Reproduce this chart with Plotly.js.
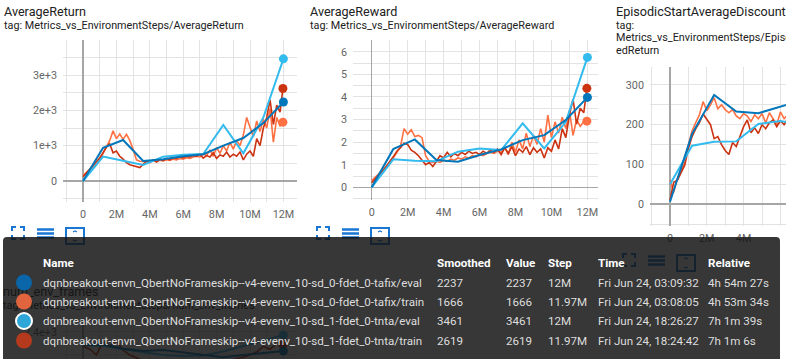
<!DOCTYPE html>
<html><head><meta charset="utf-8">
<script src="https://cdn.plot.ly/plotly-3.0.1.min.js"></script>
<style>html,body{margin:0;padding:0;background:#fff;overflow:hidden}#chart{width:786px;height:359px}</style>
</head><body><div id="chart"></div><script>
// ---------- data ----------
const evalStepsM = [0,1.2,2.4,3.6,4.8,6,7.2,8.4,9.6,10.8,12];
const trainStepsM = [0,0.2,0.4,0.6,0.8,1,1.2,1.4,1.6,1.8,2,2.2,2.4,2.6,2.8,3,3.2,3.4,3.6,3.8,4,4.2,4.4,4.6,4.8,5,5.2,5.4,5.6,5.8,6,6.2,6.4,6.6,6.8,7,7.2,7.4,7.6,7.8,8,8.2,8.4,8.6,8.8,9,9.2,9.4,9.6,9.8,10,10.2,10.4,10.6,10.8,11,11.2,11.4,11.6,11.8,11.97];

// AverageReturn
const retBlue = [0,943,1161,567,615,700,760,1000,1217,1640,2237];
const retCyan = [0,690,575,455,690,740,765,1586,784,1800,3461];
const retOrange = [150,250,330,400,480,600,780,950,1150,1420,1200,1330,1180,1320,1150,900,600,560,550,560,540,580,550,590,570,600,580,620,600,640,620,660,640,680,700,680,760,720,880,700,950,780,1000,850,1100,900,1150,1000,1300,1800,1500,1250,1700,1400,1750,1500,2050,1100,1800,1550,1666];
const retRed = [120,220,320,420,520,650,800,960,1050,800,850,700,620,520,460,430,400,380,470,560,520,600,540,620,580,640,600,660,640,690,660,700,680,720,700,760,650,720,680,800,640,740,700,820,680,760,700,820,600,760,850,700,1200,1000,1500,1800,2300,1600,2150,1950,2619];

// AverageReward
const rewBlue = [0,1.69,2.12,1.21,1.13,1.43,1.68,2.09,2.31,2.98,3.98];
const rewCyan = [0,1.24,1.18,1.15,1.58,1.72,1.65,2.83,1.72,2.90,5.75];
const rewOrange = [0.30,0.45,0.60,0.75,0.90,1.05,1.30,1.55,1.80,2.60,2.35,2.55,2.25,2.30,2.20,1.40,1.15,1.10,1.15,1.10,1.20,1.15,1.25,1.20,1.30,1.25,1.35,1.30,1.40,1.35,1.45,1.40,1.50,1.55,1.50,1.60,1.55,1.80,1.45,2.00,1.55,2.10,1.70,2.40,1.80,2.30,1.90,2.60,2.00,3.20,2.20,2.90,2.40,3.10,2.60,3.40,2.30,3.00,2.70,2.90,2.93];
const rewRed = [0.20,0.40,0.55,0.70,0.90,1.10,1.35,1.60,1.75,1.95,1.90,1.65,1.55,1.40,1.20,1.00,1.10,0.92,1.15,1.40,1.30,1.55,1.35,1.50,1.40,1.55,1.45,1.60,1.50,1.55,1.45,1.60,1.50,1.65,1.55,1.70,1.45,1.75,1.50,1.80,1.40,1.70,1.55,1.80,1.45,1.75,1.55,1.70,1.30,1.75,1.60,2.10,1.70,2.60,2.20,3.20,3.90,2.80,3.50,3.30,4.38];

// EpisodicStartAverageDiscountedReturn (visible part)
const discEvalSteps = [0,1.2,2.4,3.6,4.8,6,7.2];
const discBlue = [6,177,275,233,229,246,262];
const discCyan = [50,147,157,158,202,209,200];
const discTrainSteps = [0,0.2,0.4,0.6,0.8,1,1.2,1.4,1.6,1.8,2,2.2,2.4,2.6,2.8,3,3.2,3.4,3.6,3.8,4,4.2,4.4,4.6,4.8,5,5.2,5.4,5.6,5.8,6,6.2,6.4];
const discOrange = [60,30,65,85,105,150,185,205,225,258,235,250,268,240,250,238,230,238,222,215,228,222,208,225,215,228,205,230,215,200,232,215,225];
const discRed = [10,55,60,80,98,140,170,190,205,227,215,200,165,170,150,135,125,155,145,170,195,212,180,192,178,200,190,205,212,195,210,200,215];

// num_env_frames (mostly hidden under tooltip)
const framesBlue = [2174,2190,2110,2070,2085,2040,2000,1960,2000,2040,2070];
const framesCyan = [2170,2160,2100,2050,2000,1980,1990,2060,2150,2250,2348];
const framesTrainSteps = [0,0.4,0.8,1.2,1.6,2,2.4,2.8,3.2,3.6,4,4.4,4.8,5.2,5.6,6,6.4,6.8,7.2,7.6,8,8.4,8.8,9.2,9.6,10,10.4,10.8,11.2,11.6,11.97];
const framesRed = [2150,2100,2000,2230,2150,2250,2080,2000,1950,1900,1920,1880,1900,1870,1890,1880,1900,1880,1910,1890,1900,1920,1900,1940,1960,2000,2050,2150,2100,2200,2180];

// tick labels
const stepTickVals = [0,2,4,6,8,10,12];
const stepTickText = ['0','2M','4M','6M','8M','10M','12M'];
const retTickVals = [0,1000,2000,3000];
const retTickText = ['0','1e+3','2e+3','3e+3'];
const rewTickVals = [0,1,2,3,4,5,6];
const rewTickText = ['0','1','2','3','4','5','6'];
const discTickVals = [0,100,200,300];
const discTickText = ['0','100','200','300'];
const framesTickVals = [2000,2400];
const framesTickText = ['2e+3','2.4e+3'];

// tooltip table
const tipNames = [
  'dqnbreakout-envn_QbertNoFrameskip--v4-evenv_10-sd_0-fdet_0-tafix/eval',
  'dqnbreakout-envn_QbertNoFrameskip--v4-evenv_10-sd_0-fdet_0-tafix/train',
  'dqnbreakout-envn_QbertNoFrameskip--v4-evenv_10-sd_1-fdet_0-tnta/eval',
  'dqnbreakout-envn_QbertNoFrameskip--v4-evenv_10-sd_1-fdet_0-tnta/train'];
const tipSmoothed = ['2237','1666','3461','2619'];
const tipValue = ['2237','1666','3461','2619'];
const tipStep = ['12M','11.97M','12M','11.97M'];
const tipTime = ['Fri Jun 24, 03:09:32','Fri Jun 24, 03:08:05','Fri Jun 24, 18:26:27','Fri Jun 24, 18:24:42'];
const tipRelative = ['4h 54m 27s','4h 53m 34s','7h 1m 39s','7h 1m 6s'];
const tipHeaders = ['Name','Smoothed','Value','Step','Time','Relative'];

// ---------- styling ----------
const W = 786, H = 359;
const X = p => p / W, Y = p => 1 - p / H;
const COL = {blue:'#0077bb', orange:'#ff7043', red:'#cc3311', cyan:'#33bbee'};
const FONT = 'Roboto, "Noto Sans", sans-serif';

const traces = [];
function addSeries(n, x, y, color, width, marker) {
  const xa = n === 1 ? 'x' : 'x' + n, ya = n === 1 ? 'y' : 'y' + n;
  traces.push({x, y, xaxis: xa, yaxis: ya, type: 'scatter', mode: 'lines',
    line: {color, width}, hoverinfo: 'skip'});
  if (marker) traces.push({x: [x[x.length-1]], y: [y[y.length-1]], xaxis: xa, yaxis: ya,
    type: 'scatter', mode: 'markers', marker: {color, size: 9}, hoverinfo: 'skip'});
}
function addChart(n, tx, orange, red, ex, blue, cyan, markers) {
  addSeries(n, tx, orange, COL.orange, 1.6, markers);
  addSeries(n, tx, red, COL.red, 1.6, markers);
  addSeries(n, ex, cyan, COL.cyan, 2, markers);
  addSeries(n, ex, blue, COL.blue, 2, markers);
}
addChart(1, trainStepsM, retOrange, retRed, evalStepsM, retBlue, retCyan, true);
addChart(2, trainStepsM, rewOrange, rewRed, evalStepsM, rewBlue, rewCyan, true);
addChart(3, discTrainSteps, discOrange, discRed, discEvalSteps, discBlue, discCyan, false);
addSeries(4, framesTrainSteps, framesRed, COL.red, 1.6, true);
addSeries(4, evalStepsM, framesCyan, COL.cyan, 2, true);
addSeries(4, evalStepsM, framesBlue, COL.blue, 2, true);

function axis(dom, range, tv, tt, minor, anchor, isY, showLabels) {
  return {domain: dom, range, anchor, tickmode: 'array', tickvals: tv, ticktext: tt,
    showgrid: true, gridcolor: '#e3e3e3', gridwidth: 1,
    minor: {tickmode: 'linear', tick0: 0, dtick: minor, showgrid: true, gridcolor: '#e3e3e3', gridwidth: 1},
    zeroline: true, zerolinecolor: '#a6a6a6', zerolinewidth: 1.5,
    showline: false, ticks: '', showticklabels: showLabels !== false,
    ticklabelstandoff: isY ? 5 : 4,
    tickfont: {family: FONT, size: 10.8, color: '#666'}, fixedrange: true};
}
const layout = {
  width: W, height: H, margin: {l: 0, r: 0, t: 0, b: 0},
  paper_bgcolor: '#fff', plot_bgcolor: 'rgba(0,0,0,0)', showlegend: false, hovermode: false,
  xaxis:  axis([X(63), X(297)], [-1.198, 12.814], stepTickVals, stepTickText, 1, 'y'),
  yaxis:  axis([Y(202), Y(40)], [-595, 3994], retTickVals, retTickText, 500, 'x', true),
  xaxis2: axis([X(353), X(598)], [-1.04, 12.59], stepTickVals, stepTickText, 1, 'y2'),
  yaxis2: axis([Y(200), Y(40)], [-0.56, 6.52], rewTickVals, rewTickText, 0.5, 'x2', true),
  xaxis3: axis([X(650), 1], [-1.087, 6.304], stepTickVals, stepTickText, 1, 'y3'),
  yaxis3: axis([Y(226), Y(66.7)], [-55, 346], discTickVals, discTickText, 50, 'x3', true),
  xaxis4: axis([X(63), X(297)], [-1.198, 12.814], stepTickVals, stepTickText, 1, 'y4', false, false),
  yaxis4: axis([0, Y(318)], [1930, 2643], framesTickVals, framesTickText, 200, 'x4', true),
  annotations: [], shapes: []
};

function ann(x, y, text, size, color, bold) {
  layout.annotations.push({xref: 'paper', yref: 'paper', x: X(x), y: Y(y), xanchor: 'left', yanchor: 'middle',
    text: bold ? '<b>' + text + '</b>' : text, showarrow: false, borderpad: 0,
    font: {family: FONT, size, color}});
}
// chart titles
ann(3, 11.5, 'AverageReturn', 12.6, '#212121');
ann(3, 25, 'tag: Metrics_vs_EnvironmentSteps/AverageReturn', 10.8, '#212121');
ann(309, 11.5, 'AverageReward', 12.6, '#212121');
ann(309, 25, 'tag: Metrics_vs_EnvironmentSteps/AverageReward', 10.8, '#212121');
ann(615, 11.5, 'EpisodicStartAverageDiscountedReturn', 12.6, '#212121');
ann(615, 25, 'tag:', 10.8, '#212121');
ann(615, 38, 'Metrics_vs_EnvironmentSteps/EpisodicStartAverageDiscount', 10.8, '#212121');
ann(615, 50.5, 'edReturn', 10.8, '#212121');

// bottom chart titles (under the tooltip) as shape labels
function shapeText(x, y, text, size) {
  layout.shapes.push({type: 'line', xref: 'paper', yref: 'paper', x0: X(x), x1: X(x + 300), y0: Y(y), y1: Y(y),
    line: {color: 'rgba(0,0,0,0)', width: 1},
    label: {text, textposition: 'start', xanchor: 'left', yanchor: 'middle', padding: 0,
      font: {family: FONT, size, color: '#212121'}}});
}
shapeText(3, 291, 'num_env_frames', 12.6);
shapeText(3, 305, 'tag: Metrics_vs_EnvironmentSteps/num_env_frames', 10.8);

// toolbar icons
const ICON = '#1976d2';
function pth(cmds) {
  return cmds.map(c => c[0] + (c.length > 1 ? X(c[1]) + ',' + Y(c[2]) : '')).join(' ');
}
function icons(dx, dy) {
  const s = (d, w) => layout.shapes.push({type: 'path', xref: 'paper', yref: 'paper', path: d,
    line: {color: ICON, width: w || 2}, fillcolor: 'rgba(0,0,0,0)'});
  const a = 12 + dx, b = 227 + dy;
  s(pth([['M', a, b + 4], ['L', a, b], ['L', a + 4, b]]));
  s(pth([['M', a + 8, b], ['L', a + 12, b], ['L', a + 12, b + 4]]));
  s(pth([['M', a, b + 8], ['L', a, b + 12], ['L', a + 4, b + 12]]));
  s(pth([['M', a + 8, b + 12], ['L', a + 12, b + 12], ['L', a + 12, b + 8]]));
  const m = 37 + dx;
  [229.5, 233.5, 237.5].forEach(yy => s(pth([['M', m, yy + dy], ['L', m + 17, yy + dy]]), 2.5));
  const r = 66 + dx, t = 228 + dy;
  s(pth([['M', r, t], ['L', r + 18, t], ['L', r + 18, t + 16], ['L', r, t + 16], ['Z']]));
  s(pth([['M', r + 7, t + 4], ['L', r + 9, t + 3], ['L', r + 11, t + 4]]), 1.2);
  s(pth([['M', r + 7, t + 12], ['L', r + 9, t + 13], ['L', r + 11, t + 12]]), 1.2);
}
icons(0, 0);
icons(305, 0);
icons(611, 27);

// tooltip overlay
const ox0 = 3, ox1 = 780, oy0 = 237, oy1 = 372, rr = 4;
layout.shapes.push({type: 'path', xref: 'paper', yref: 'paper', layer: 'above',
  path: pth([['M', ox0, oy1], ['L', ox0, oy0 + rr], ['Q', ox0, oy0], ['', ox0 + rr, oy0],
    ['L', ox1 - rr, oy0], ['Q', ox1, oy0], ['', ox1, oy0 + rr], ['L', ox1, oy1], ['Z']]).replace(/Q(\S+)\s+(\S+)/g, 'Q$1 $2'),
  fillcolor: 'rgba(20,20,20,0.85)', line: {width: 0}});

const rowY = [282.5, 301.5, 321, 340.5];
const circleCol = ['#0a66a8', '#e0653f', '#2ea6d8', '#b5391d'];
rowY.forEach((yy, i) => {
  layout.shapes.push({type: 'circle', xref: 'paper', yref: 'paper',
    x0: X(16), x1: X(32), y0: Y(yy - 8), y1: Y(yy + 8), fillcolor: circleCol[i],
    line: i === 2 ? {color: '#ffffff', width: 2} : {width: 0}});
});
const colX = [42, 436.5, 505, 546.5, 596.5, 707];
tipHeaders.forEach((h, j) => ann(colX[j], 263, h, 11.6, '#ffffff', true));
rowY.forEach((yy, i) => {
  const cells = [tipNames[i], tipSmoothed[i], tipValue[i], tipStep[i], tipTime[i], tipRelative[i]];
  cells.forEach((c, j) => ann(colX[j], yy, c, 11.6, '#dedede'));
});

Plotly.newPlot('chart', traces, layout, {staticPlot: true, displayModeBar: false});
</script></body></html>
